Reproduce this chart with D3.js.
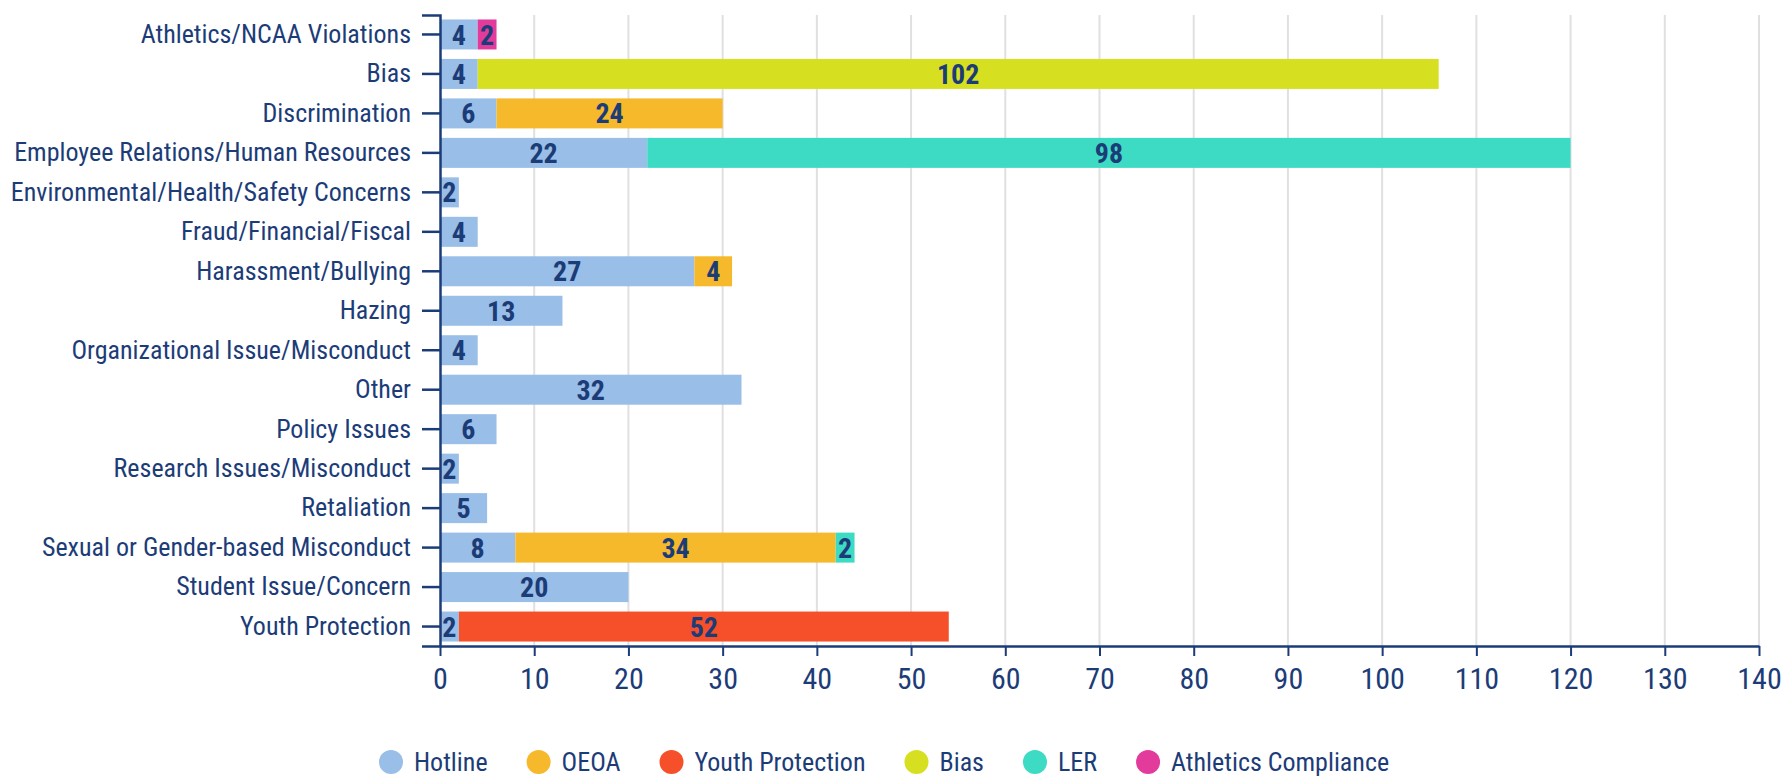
<!DOCTYPE html>
<html>
<head>
<meta charset="utf-8">
<script src="https://cdn.jsdelivr.net/npm/d3@7"></script>
<style>
  body { margin: 0; background: #fff; }
  svg text { font-family: "Roboto Condensed", "Liberation Sans Narrow", "DejaVu Sans Condensed", Roboto, sans-serif; }
</style>
</head>
<body>
<div id="chart"></div>
<script>
const categories = [
    "Athletics/NCAA Violations", "Bias", "Discrimination", "Employee Relations/Human Resources",
    "Environmental/Health/Safety Concerns", "Fraud/Financial/Fiscal", "Harassment/Bullying", "Hazing",
    "Organizational Issue/Misconduct", "Other", "Policy Issues", "Research Issues/Misconduct",
    "Retaliation", "Sexual or Gender-based Misconduct", "Student Issue/Concern", "Youth Protection"
];
const seriesNames = ["Hotline", "OEOA", "Youth Protection", "Bias", "LER", "Athletics Compliance"];
const seriesColors = ["#99bee7", "#f6b92b", "#f5502a", "#d6e021", "#3ddbc4", "#e33b9b"];

const hotline         = [4, 4, 6, 22, 2, 4, 27, 13, 4, 32, 6, 2, 5, 8, 20, 2];
const oeoa            = [0, 0, 24, 0, 0, 0, 4, 0, 0, 0, 0, 0, 0, 34, 0, 0];
const youthProtection = [0, 0, 0, 0, 0, 0, 0, 0, 0, 0, 0, 0, 0, 0, 0, 52];
const bias            = [0, 102, 0, 0, 0, 0, 0, 0, 0, 0, 0, 0, 0, 0, 0, 0];
const ler             = [0, 0, 0, 98, 0, 0, 0, 0, 0, 0, 0, 0, 0, 2, 0, 0];
const athletics       = [2, 0, 0, 0, 0, 0, 0, 0, 0, 0, 0, 0, 0, 0, 0, 0];
const xTicks = d3.range(0, 141, 10);

const width = 1783, height = 778;
const margin = {top: 15, left: 440, right: 24, bottom: 132};
const navy = "#1c3c78";

const rows = categories.map((c, i) => ({
    category: c,
    "Hotline": hotline[i], "OEOA": oeoa[i], "Youth Protection": youthProtection[i],
    "Bias": bias[i], "LER": ler[i], "Athletics Compliance": athletics[i]
}));
const stacked = d3.stack().keys(seriesNames)(rows);

const x = d3.scaleLinear().domain([0, 140]).range([margin.left, width - margin.right]);
const y = d3.scaleBand().domain(categories)
    .range([margin.top, height - margin.bottom]).paddingInner(0.24).paddingOuter(0.113);
const color = d3.scaleOrdinal().domain(seriesNames).range(seriesColors);

const svg = d3.select("#chart").append("svg")
    .attr("width", width).attr("height", height);

// grid
svg.append("g").selectAll("line").data(xTicks.slice(1)).enter().append("line")
    .attr("x1", d => x(d)).attr("x2", d => x(d))
    .attr("y1", margin.top).attr("y2", height - margin.bottom)
    .attr("stroke", "#e0e0e0").attr("stroke-width", 2);

// bars
const layer = svg.append("g").selectAll("g").data(stacked).enter().append("g")
    .attr("fill", d => color(d.key));
layer.selectAll("rect").data(d => d.filter(s => s[1] - s[0] > 0)).enter().append("rect")
    .attr("x", d => x(d[0]))
    .attr("y", d => y(d.data.category))
    .attr("width", d => x(d[1]) - x(d[0]))
    .attr("height", y.bandwidth());

// value labels
layer.selectAll("text").data(d => d.filter(s => s[1] - s[0] > 0)).enter().append("text")
    .attr("x", d => (x(d[0]) + x(d[1])) / 2)
    .attr("y", d => y(d.data.category) + y.bandwidth() / 2)
    .attr("dy", "0.36em")
    .attr("text-anchor", "middle")
    .attr("fill", navy)
    .attr("font-size", 28)
    .attr("font-weight", "bold")
    .text(d => d[1] - d[0]);

// y axis
const yAxis = svg.append("g")
    .attr("transform", "translate(" + margin.left + ",0)")
    .call(d3.axisLeft(y).tickSize(18).tickPadding(11));
yAxis.select(".domain").attr("stroke", navy).attr("stroke-width", 2.5);
yAxis.selectAll(".tick line").attr("stroke", navy).attr("stroke-width", 2.5);
yAxis.selectAll(".tick text").attr("fill", navy).attr("font-size", 26);

// x axis
const xAxis = svg.append("g")
    .attr("transform", "translate(0," + (height - margin.bottom) + ")")
    .call(d3.axisBottom(x).tickValues(xTicks).tickSize(10).tickSizeOuter(0).tickPadding(12));
xAxis.select(".domain").attr("stroke", navy).attr("stroke-width", 2.5);
xAxis.selectAll(".tick line").attr("stroke", navy).attr("stroke-width", 2);
xAxis.selectAll(".tick text").attr("fill", navy).attr("font-size", 30);

// legend
const legend = svg.append("g").attr("transform", "translate(0,762)");
let lx = 391;
seriesNames.forEach(name => {
    const item = legend.append("g").attr("transform", "translate(" + lx + ",0)");
    item.append("circle").attr("r", 12).attr("fill", color(name));
    const t = item.append("text")
        .attr("x", 23).attr("dy", "0.35em")
        .attr("fill", navy).attr("font-size", 26)
        .text(name);
    lx += 23 + t.node().getComputedTextLength() + 51;
});
</script>
</body>
</html>
